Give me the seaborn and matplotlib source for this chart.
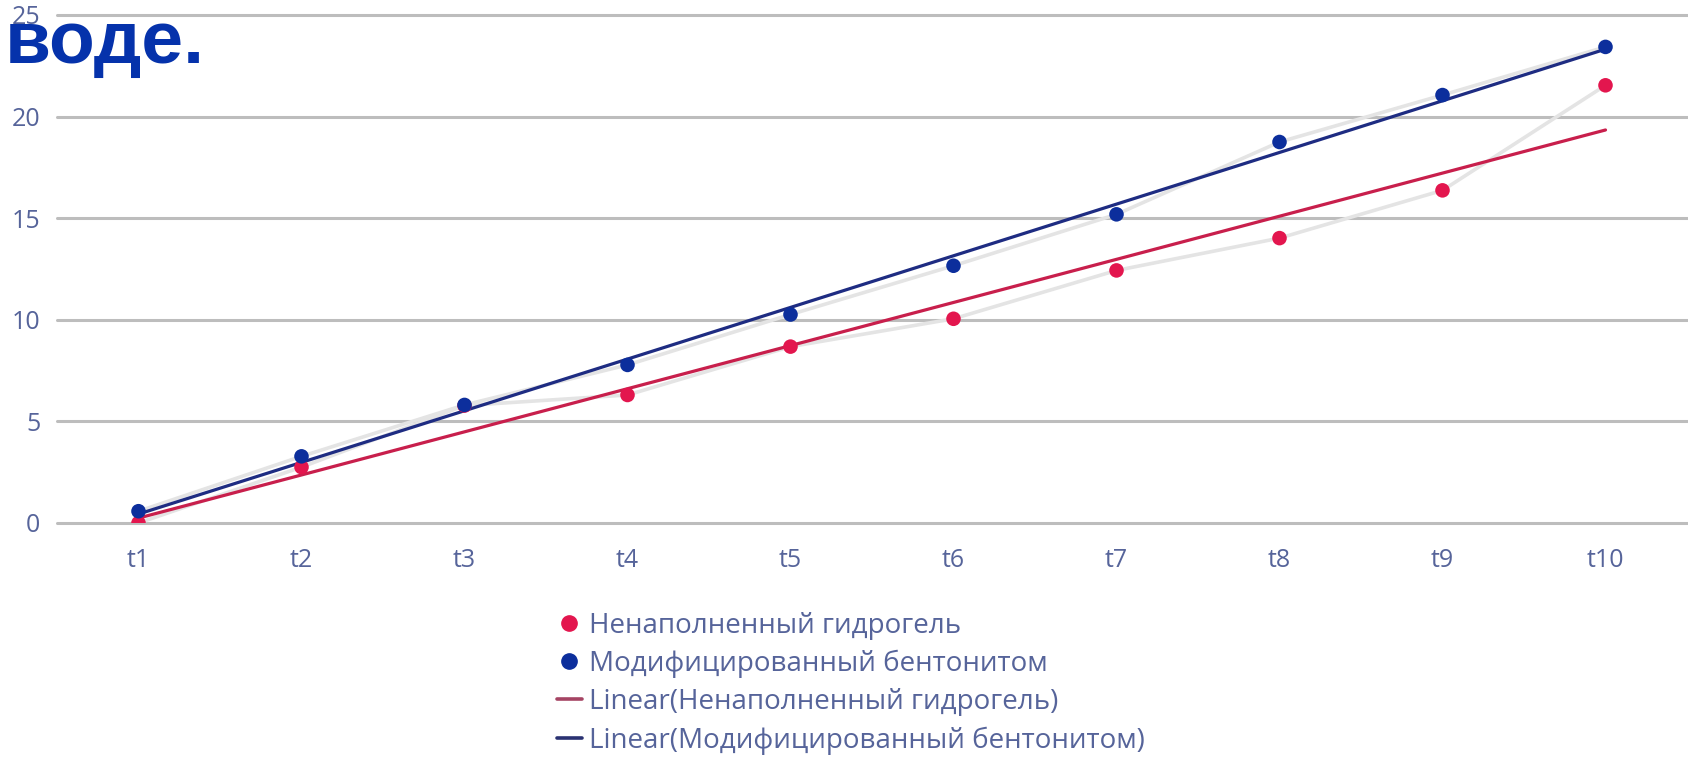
import numpy as np
import pandas as pd
import matplotlib
matplotlib.use("Agg")
import matplotlib.pyplot as plt
from matplotlib.lines import Line2D
import seaborn as sns

# Measurement points and readings
labels = ["t1", "t2", "t3", "t4", "t5", "t6", "t7", "t8", "t9", "t10"]
unfilled = [0.0, 2.75, 5.78, 6.3, 8.68, 10.05, 12.43, 14.02, 16.37, 21.54]
bentonite = [0.58, 3.28, 5.81, 7.78, 10.26, 12.66, 15.19, 18.75, 21.06, 23.43]
y_ticks = [0, 5, 10, 15, 20, 25]

name_a = "Ненаполненный гидрогель"
name_b = "Модифицированный бентонитом"

c_a = "#e3164e"
c_b = "#0c2e9c"
c_trend_a = "#c81f4c"
c_trend_b = "#1e2c82"
c_text = "#56649a"
c_grid = "#bdbdbd"
c_join = "#e4e4e4"

sns.set_theme(style="white")
plt.rcParams["font.family"] = ["Open Sans", "DejaVu Sans"]

x = np.arange(1, len(labels) + 1)
df_a = pd.DataFrame({"x": x, "y": unfilled})
df_b = pd.DataFrame({"x": x, "y": bentonite})

fig = plt.figure(figsize=(16.88, 7.58), dpi=100)
ax = fig.add_axes([57 / 1688, 1 - 523 / 758, (1687 - 57) / 1688, (523 - 15) / 758])

# pale connecting lines between readings
sns.lineplot(data=df_a, x="x", y="y", ax=ax, color=c_join, linewidth=2.6, zorder=2)
sns.lineplot(data=df_b, x="x", y="y", ax=ax, color=c_join, linewidth=2.6, zorder=2)

# linear trends
sns.regplot(data=df_a, x="x", y="y", ax=ax, scatter=False, ci=None, truncate=True,
            line_kws=dict(color=c_trend_a, linewidth=2.3, zorder=3))
sns.regplot(data=df_b, x="x", y="y", ax=ax, scatter=False, ci=None, truncate=True,
            line_kws=dict(color=c_trend_b, linewidth=2.3, zorder=3))

# readings
sns.scatterplot(data=df_a, x="x", y="y", ax=ax, color=c_a, s=110, edgecolor="none", zorder=4)
sns.scatterplot(data=df_b, x="x", y="y", ax=ax, color=c_b, s=110, edgecolor="none", zorder=5)

ax.set_xlim(0.5, len(labels) + 0.5)
ax.set_ylim(0, 25)
ax.set_xticks(x)
ax.set_xticklabels(labels)
ax.set_yticks(y_ticks)
ax.set_xlabel("")
ax.set_ylabel("")
for s in ax.spines.values():
    s.set_visible(False)
ax.yaxis.grid(True, color=c_grid, linewidth=2.2)
ax.xaxis.grid(False)
ax.set_axisbelow(True)
for gl in ax.yaxis.get_gridlines():
    gl.set_clip_on(False)
ax.tick_params(axis="both", length=0, labelsize=18, labelcolor=c_text)
ax.tick_params(axis="x", pad=18)
ax.tick_params(axis="y", pad=12)
ax.patch.set_alpha(0)

handles = [
    Line2D([], [], marker="o", linestyle="none", color=c_a, markersize=11),
    Line2D([], [], marker="o", linestyle="none", color=c_b, markersize=11),
    Line2D([], [], color="#a54463", linewidth=2.6),
    Line2D([], [], color="#2a3272", linewidth=2.6),
]
texts = [name_a, name_b, f"Linear({name_a})", f"Linear({name_b})"]
leg = fig.legend(handles, texts, loc="upper left", bbox_to_anchor=(543 / 1688, 1 - 598 / 758),
                 frameon=False, fontsize=20, handlelength=0.9, handletextpad=0.25,
                 labelspacing=0.36, borderpad=0)
for t in leg.get_texts():
    t.set_color(c_text)

fig.text(5 / 1688, 1 - 9 / 758, "воде.", ha="left", va="top", fontsize=54,
         fontweight="bold", color="#0532ab", family=["Liberation Sans", "DejaVu Sans"],
         zorder=10)

fig.savefig("out.png", dpi=100)
